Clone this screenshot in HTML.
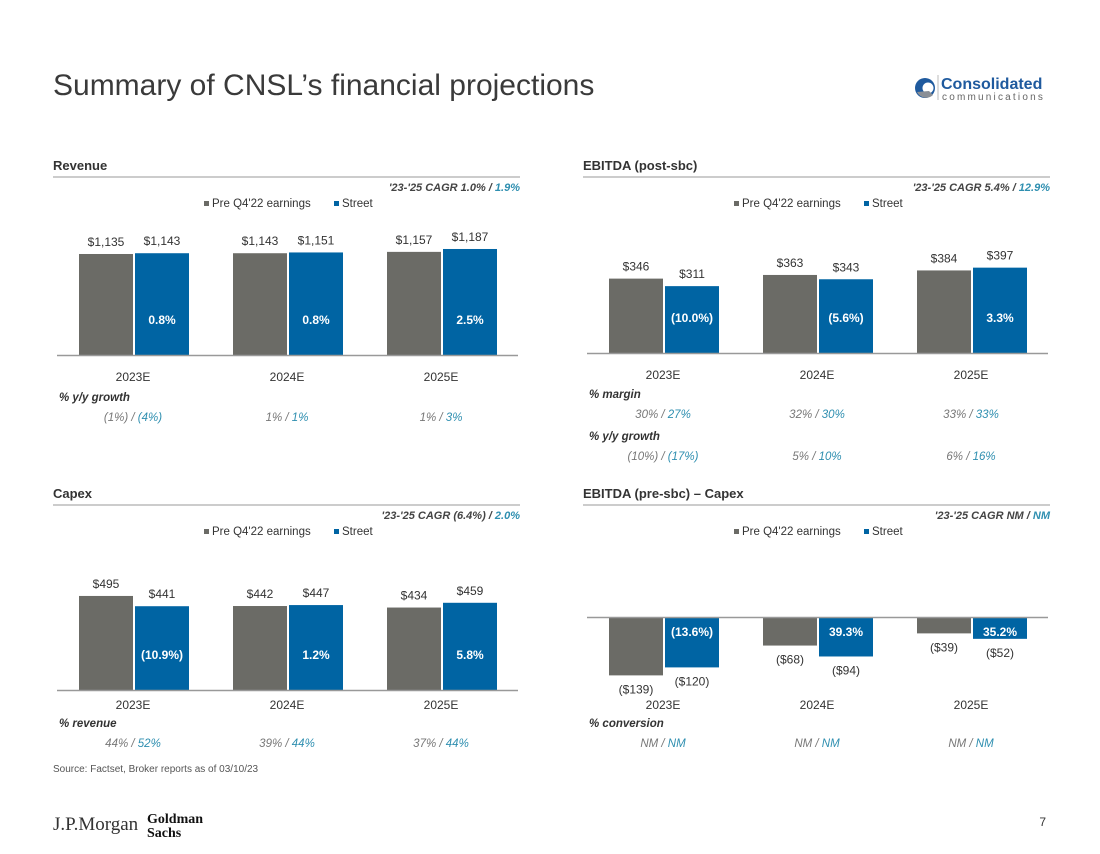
<!DOCTYPE html>
<html><head><meta charset="utf-8"><style>
html,body{margin:0;padding:0;background:#fff;}
body{width:1100px;height:849px;overflow:hidden;font-family:"Liberation Sans",Arial,sans-serif;}
svg text{font-family:"Liberation Sans",Arial,sans-serif;}
</style></head><body>
<svg id="s" width="1100" height="849" viewBox="0 0 1100 849">
<text x="53" y="95" font-size="30" fill="#3a3a3a">Summary of CNSL’s financial projections</text>
<g>
<circle cx="925" cy="88" r="10" fill="#1f5a9e"/>
<circle cx="928" cy="88" r="5.5" fill="#fff"/>
<path d="M917 92 A10 10 0 0 0 933 95 L929 91 Z" fill="#8a8f96"/>
<line x1="938" y1="75" x2="938" y2="100" stroke="#bbb" stroke-width="1"/>
<text x="941" y="89" font-size="16" font-weight="bold" fill="#1f5a9e">Consolidated</text>
<text x="942" y="100" font-size="10" fill="#666" letter-spacing="2.2">communications</text>
</g>
<text x="53" y="772" font-size="10" fill="#555">Source: Factset, Broker reports as of 03/10/23</text>
<text x="53" y="830" font-size="19" fill="#333" style="font-family:'Liberation Serif',serif">J.P.Morgan</text>
<g>
<text x="147" y="823" font-size="14" font-weight="bold" fill="#111" style="font-family:'Liberation Serif',serif">Goldman</text>
<text x="147" y="837" font-size="14" font-weight="bold" fill="#111" style="font-family:'Liberation Serif',serif">Sachs</text>
</g>
<text x="1046" y="826" font-size="12" fill="#333" text-anchor="end">7</text>
</svg>
<script>
const categories = ["2023E","2024E","2025E"];
const revPre = [1135,1143,1157];
const revStreet = [1143,1151,1187];
const revInner = ["0.8%","0.8%","2.5%"];
const ebitdaPre = [346,363,384];
const ebitdaStreet = [311,343,397];
const ebitdaInner = ["(10.0%)","(5.6%)","3.3%"];
const capexPre = [495,442,434];
const capexStreet = [441,447,459];
const capexInner = ["(10.9%)","1.2%","5.8%"];
const fcfPre = [-139,-68,-39];
const fcfStreet = [-120,-94,-52];
const fcfInner = ["(13.6%)","39.3%","35.2%"];

const S=document.getElementById('s');
const NS='http://www.w3.org/2000/svg';
function mk(tag,attrs,parent){const e=document.createElementNS(NS,tag);for(const k in attrs)e.setAttribute(k,attrs[k]);(parent||S).appendChild(e);return e;}
function txt(x,y,s,size,fill,extra,parent){const t=mk('text',Object.assign({x:x,y:y,'font-size':size,fill:fill},extra||{}),parent);t.textContent=s;return t;}
function fmt(v){const a=Math.abs(v).toLocaleString('en-US');return v<0?'($'+a+')':'$'+a;}

function panel(o){
  const g=mk('g',{});
  
  
  const t=txt(o.x0,o.ty,o.title,13,'#333',{'font-weight':'bold'},g);
  
  
  mk('line',{x1:o.x0,x2:o.x0+467,y1:o.ty+7,y2:o.ty+7,stroke:'#999','stroke-width':1},g);
  const c=mk('text',{x:o.x0+467,y:o.ty+21,'font-size':11,'font-weight':'bold','font-style':'italic','text-anchor':'end',fill:'#444'},g);
  
  
  c.innerHTML=o.cagr[0]+' / <tspan fill="#2f8fb0">'+o.cagr[1]+'</tspan>';
  const lg=mk('g',{},g);
  
  
  const lx=o.x0+151, ly=o.ty+37;
  mk('rect',{x:lx,y:ly-6,width:5,height:5,fill:'#6b6b66'},lg);
  txt(lx+8,ly,'Pre Q4\'22 earnings',11.5,'#333',{},lg);
  mk('rect',{x:lx+130,y:ly-6,width:5,height:5,fill:'#0064a3'},lg);
  txt(lx+138,ly,'Street',11.5,'#333',{},lg);
  const base=o.base, vmin=o.vmin||0;
  const yv=v=>base-(v-vmin)*o.k;
  const groupX=i=>o.x0+26+i*154;
  categories.forEach((cat,i)=>{
    const gx=groupX(i);
    [[o.pre[i],'#6b6b66',0],[o.st[i],'#0064a3',56]].forEach(([v,col,dx],j)=>{
      const y1=Math.min(yv(v),base), h=Math.abs(yv(v)-base);
      const r=mk('rect',{x:gx+dx,y:y1,width:54,height:h,fill:col},g);
      
      
      const ly2 = v>=0 ? yv(v)-8 : yv(v)+18;
      const l=txt(gx+dx+27,ly2,fmt(v),12,'#333',{'text-anchor':'middle'},g);
      
      
    });
    const iy = o.neg ? base+19 : base-31;
    const il=txt(gx+56+27,iy,o.inner[i],12,'#fff',{'text-anchor':'middle','font-weight':'bold'},g);
    
    
    const cl=txt(gx+54,o.catY,cat,12,'#333',{'text-anchor':'middle'},g);
    
    
  });
  mk('line',{x1:o.x0+4,x2:o.x0+465,y1:base+0.5,y2:base+0.5,stroke:'#999','stroke-width':1.5},g);
  o.rows.forEach(r=>{
    const h=txt(o.x0+6,r.y,r.head,11.5,'#333',{'font-weight':'bold','font-style':'italic'},g);
    
    
    r.vals.forEach((p,i)=>{
      const e=mk('text',{x:groupX(i)+54,y:r.y+20,'font-size':11.5,'font-style':'italic','text-anchor':'middle',fill:'#777'},g);
      
      
      e.innerHTML=p[0]+' / <tspan fill="#2f8fb0">'+p[1]+'</tspan>';
    });
  });
}
panel({name:'revenue-chart',x0:53,ty:170,title:'Revenue',cagr:["'23-'25 CAGR  1.0%","1.9%"],pre:revPre,st:revStreet,vmin:85,k:0.0962,base:355,inner:revInner,catY:381,
  rows:[{y:401,head:'% y/y growth',vals:[["(1%)","(4%)"],["1%","1%"],["1%","3%"]]}]});
panel({name:'ebitda-post-sbc-chart',x0:583,ty:170,title:'EBITDA (post-sbc)',cagr:["'23-'25 CAGR  5.4%","12.9%"],pre:ebitdaPre,st:ebitdaStreet,k:0.215,base:353,inner:ebitdaInner,catY:379,
  rows:[{y:398,head:'% margin',vals:[["30%","27%"],["32%","30%"],["33%","33%"]]},{y:440,head:'% y/y growth',vals:[["(10%)","(17%)"],["5%","10%"],["6%","16%"]]}]});
panel({name:'capex-chart',x0:53,ty:498,title:'Capex',cagr:["'23-'25 CAGR  (6.4%)","2.0%"],pre:capexPre,st:capexStreet,k:0.19,base:690,inner:capexInner,catY:709,
  rows:[{y:727,head:'% revenue',vals:[["44%","52%"],["39%","44%"],["37%","44%"]]}]});
panel({name:'ebitda-minus-capex-chart',x0:583,ty:498,title:'EBITDA (pre-sbc) – Capex',cagr:["'23-'25 CAGR  NM","NM"],pre:fcfPre,st:fcfStreet,k:0.42,base:617,inner:fcfInner,neg:true,catY:709,
  rows:[{y:727,head:'% conversion',vals:[["NM","NM"],["NM","NM"],["NM","NM"]]}]});
</script>
</body></html>
